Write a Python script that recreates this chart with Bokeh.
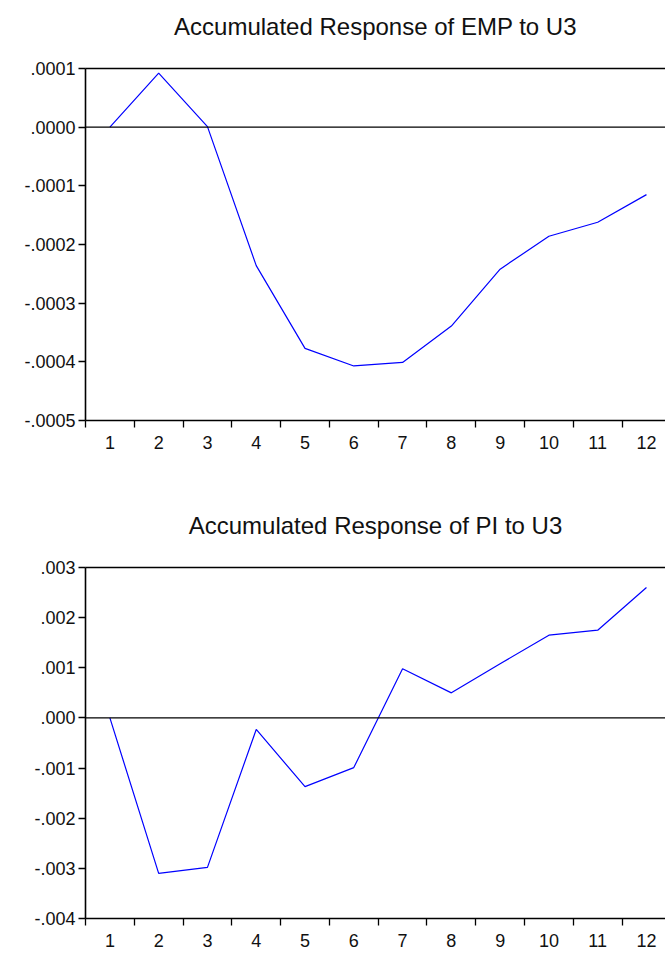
from bokeh.plotting import figure
from bokeh.models import FixedTicker, Span, LinearAxis, Range1d
from bokeh.layouts import column
from bokeh.embed import file_html
from bokeh.resources import INLINE

periods = [1, 2, 3, 4, 5, 6, 7, 8, 9, 10, 11, 12]
emp = [0.0, 0.000092, 0.000001, -0.000236, -0.000377, -0.000407, -0.000401,
       -0.000339, -0.000242, -0.000186, -0.000162, -0.000115]
pi = [0.0, -0.00310, -0.00298, -0.00023, -0.00137, -0.00099, 0.00098,
      0.00050, 0.00108, 0.00165, 0.00175, 0.00260]

emp_ticks = [0.0001, 0.0, -0.0001, -0.0002, -0.0003, -0.0004, -0.0005]
emp_labels = [".0001", ".0000", "-.0001", "-.0002", "-.0003", "-.0004", "-.0005"]
pi_ticks = [0.003, 0.002, 0.001, 0.0, -0.001, -0.002, -0.003, -0.004]
pi_labels = [".003", ".002", ".001", ".000", "-.001", "-.002", "-.003", "-.004"]

FONT = "Liberation Sans"


def panel(title, ys, yticks, ylabels, ytop, ybot, btop, bbottom):
    p = figure(width=665, height=477, output_backend="svg", toolbar_location=None,
               x_range=Range1d(0.5, 12.39), y_range=Range1d(ybot, ytop),
               min_border_left=85, min_border_right=0,
               min_border_top=btop, min_border_bottom=bbottom)
    p.title.text = title
    p.title.text_font = FONT
    p.title.text_font_size = "24px"
    p.title.text_font_style = "normal"
    p.title.align = "center"
    p.title.text_color = "#111111"
    p.title.standoff = 10
    p.outline_line_color = None
    p.grid.visible = False
    p.background_fill_color = "white"
    p.border_fill_color = "white"

    p.line(periods, ys, line_color="#0000FF", line_width=1.2)
    p.add_layout(Span(location=0, dimension="width", line_color="black", line_width=1.3))

    xa = p.xaxis[0]
    xa.ticker = FixedTicker(ticks=periods, minor_ticks=[i + 0.5 for i in range(0, 13)])
    xa.major_tick_out = 0
    xa.major_tick_in = 0
    xa.minor_tick_out = 7
    xa.minor_tick_in = 0
    xa.minor_tick_line_color = "black"
    xa.minor_tick_line_width = 1.3
    xa.axis_line_color = "black"
    xa.axis_line_width = 1.6
    xa.major_label_text_font = FONT
    xa.major_label_text_font_size = "18px"
    xa.major_label_text_color = "#111111"
    xa.major_label_standoff = 8

    ya = p.yaxis[0]
    ya.ticker = FixedTicker(ticks=yticks, minor_ticks=[])
    ya.major_label_overrides = {t: l for t, l in zip(yticks, ylabels)}
    ya.major_tick_out = 7
    ya.major_tick_in = 0
    ya.major_tick_line_color = "black"
    ya.major_tick_line_width = 1.3
    ya.axis_line_color = "black"
    ya.axis_line_width = 1.6
    ya.major_label_text_font = FONT
    ya.major_label_text_font_size = "18px"
    ya.major_label_text_color = "#111111"
    ya.major_label_standoff = 3

    # top border line; an invisible tick's extent spaces the title away from the frame
    top = LinearAxis(ticker=FixedTicker(ticks=[6], minor_ticks=[]),
                     major_label_overrides={6: ""}, major_label_standoff=0,
                     major_label_text_font_size="0px",
                     axis_line_color="black", axis_line_width=1.6,
                     major_tick_line_color=None,
                     major_tick_out=24, major_tick_in=0, minor_tick_out=0, minor_tick_in=0)
    p.add_layout(top, "above")
    return p


p1 = panel("Accumulated Response of EMP to U3", emp, emp_ticks, emp_labels,
           0.0001, -0.0005, 68, 57)
p2 = panel("Accumulated Response of PI to U3", pi, pi_ticks, pi_labels,
           0.003, -0.004, 90, 36)

layout = column(p1, p2, spacing=0)
open("out.html", "w").write(file_html(layout, INLINE))
